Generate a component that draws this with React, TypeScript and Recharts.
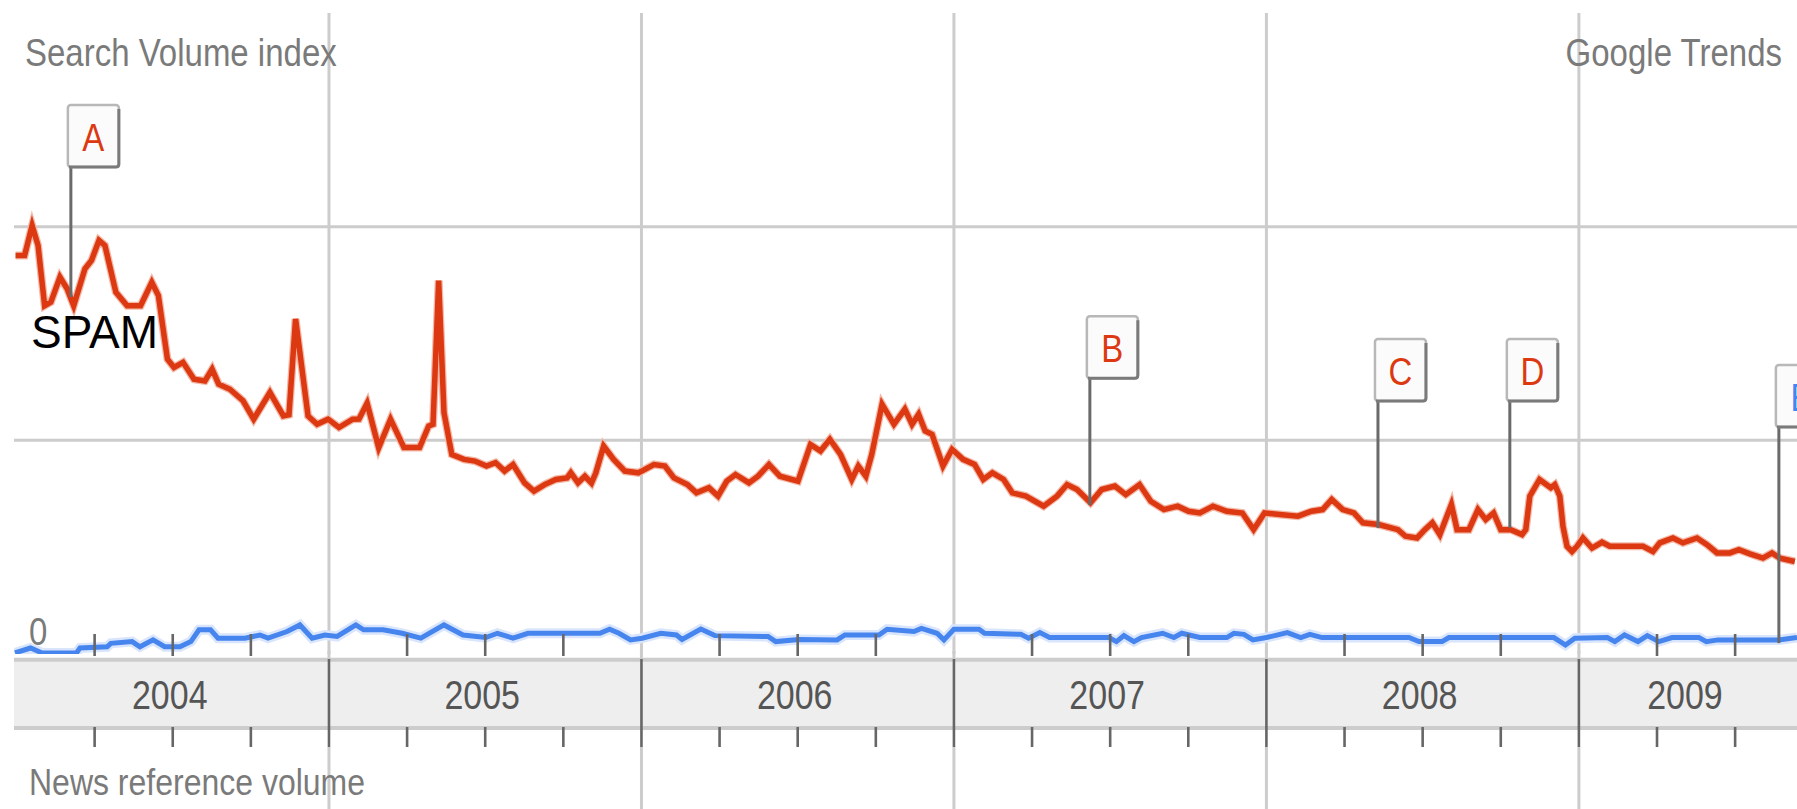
import React from 'react';
import {
  LineChart,
  Line,
  XAxis,
  YAxis,
  ReferenceLine,
  ReferenceArea,
  ReferenceDot,
} from 'recharts';

// ---------- data (fractional years / search-volume index) ----------
const spamDates = [
  2003.997, 2004.026, 2004.05, 2004.069, 2004.09, 2004.11, 2004.139, 2004.162, 2004.183, 2004.219,
  2004.24, 2004.264, 2004.283, 2004.318, 2004.354, 2004.397, 2004.433, 2004.454, 2004.483, 2004.504,
  2004.533, 2004.568, 2004.603, 2004.626, 2004.647, 2004.683, 2004.725, 2004.759, 2004.811, 2004.854,
  2004.872, 2004.893, 2004.933, 2004.962, 2004.997, 2005.032, 2005.076, 2005.096, 2005.122, 2005.159,
  2005.197, 2005.24, 2005.29, 2005.319, 2005.333, 2005.351, 2005.368, 2005.393, 2005.432, 2005.467,
  2005.504, 2005.533, 2005.562, 2005.589, 2005.626, 2005.656, 2005.69, 2005.726, 2005.762, 2005.774,
  2005.797, 2005.819, 2005.84, 2005.854, 2005.879, 2005.911, 2005.947, 2005.99, 2006.04, 2006.075,
  2006.104, 2006.147, 2006.176, 2006.216, 2006.245, 2006.273, 2006.301, 2006.344, 2006.373, 2006.408,
  2006.443, 2006.501, 2006.541, 2006.573, 2006.603, 2006.637, 2006.673, 2006.694, 2006.718, 2006.737,
  2006.77, 2006.808, 2006.843, 2006.866, 2006.887, 2006.908, 2006.93, 2006.965, 2006.994, 2007.029,
  2007.066, 2007.094, 2007.123, 2007.159, 2007.187, 2007.23, 2007.287, 2007.33, 2007.362, 2007.394,
  2007.437, 2007.473, 2007.515, 2007.55, 2007.594, 2007.63, 2007.672, 2007.716, 2007.751, 2007.787,
  2007.829, 2007.873, 2007.923, 2007.959, 2007.994, 2008.043, 2008.101, 2008.144, 2008.18, 2008.209,
  2008.244, 2008.28, 2008.309, 2008.359, 2008.421, 2008.445, 2008.482, 2008.507, 2008.531, 2008.555,
  2008.592, 2008.61, 2008.648, 2008.677, 2008.702, 2008.727, 2008.75, 2008.782, 2008.818, 2008.83,
  2008.843, 2008.874, 2008.91, 2008.923, 2008.939, 2008.949, 2008.962, 2008.978, 2008.994, 2009.013,
  2009.042, 2009.074, 2009.099, 2009.154, 2009.205, 2009.237, 2009.259, 2009.301, 2009.333, 2009.378,
  2009.41, 2009.442, 2009.483, 2009.512, 2009.547, 2009.589, 2009.618, 2009.643, 2009.691,
];
const spamValues = [
  1.865, 1.865, 2.006, 1.912, 1.63, 1.647, 1.764, 1.709, 1.63, 1.803,
  1.842, 1.936, 1.912, 1.693, 1.63, 1.63, 1.74, 1.678, 1.38, 1.341,
  1.365, 1.286, 1.278, 1.333, 1.263, 1.239, 1.185, 1.099, 1.224, 1.114,
  1.12, 1.568, 1.114, 1.075, 1.099, 1.06, 1.099, 1.1, 1.174, 0.965,
  1.099, 0.966, 0.966, 1.067, 1.075, 1.748, 1.13, 0.934, 0.911, 0.903,
  0.88, 0.896, 0.856, 0.887, 0.801, 0.762, 0.793, 0.817, 0.824, 0.848,
  0.801, 0.832, 0.8, 0.848, 0.973, 0.911, 0.856, 0.848, 0.887, 0.88,
  0.824, 0.793, 0.754, 0.778, 0.739, 0.809, 0.84, 0.801, 0.832, 0.887,
  0.832, 0.809, 0.981, 0.95, 1.005, 0.934, 0.817, 0.88, 0.832, 0.934,
  1.169, 1.075, 1.146, 1.075, 1.122, 1.044, 1.028, 0.88, 0.958, 0.911,
  0.887, 0.817, 0.848, 0.817, 0.754, 0.739, 0.692, 0.739, 0.793, 0.77,
  0.708, 0.77, 0.786, 0.746, 0.793, 0.715, 0.676, 0.692, 0.668, 0.66,
  0.692, 0.668, 0.66, 0.582, 0.66, 0.653, 0.645, 0.668, 0.676, 0.723,
  0.676, 0.66, 0.614, 0.606, 0.582, 0.551, 0.543, 0.582, 0.614, 0.559,
  0.7, 0.582, 0.582, 0.676, 0.629, 0.66, 0.582, 0.582, 0.559, 0.582,
  0.739, 0.817, 0.778, 0.793, 0.739, 0.598, 0.504, 0.48, 0.504, 0.543,
  0.496, 0.523, 0.504, 0.504, 0.504, 0.48, 0.52, 0.543, 0.52, 0.543,
  0.512, 0.473, 0.473, 0.488, 0.469, 0.449, 0.473, 0.449, 0.433,
];

const newsDates = [
  2003.995, 2004.045, 2004.082, 2004.192, 2004.203, 2004.29, 2004.302, 2004.37, 2004.395, 2004.437,
  2004.474, 2004.523, 2004.558, 2004.584, 2004.621, 2004.645, 2004.731, 2004.779, 2004.805, 2004.866,
  2004.907, 2004.946, 2004.987, 2005.026, 2005.086, 2005.111, 2005.173, 2005.234, 2005.294, 2005.368,
  2005.429, 2005.502, 2005.539, 2005.589, 2005.637, 2005.867, 2005.898, 2005.928, 2005.965, 2006.002,
  2006.062, 2006.112, 2006.13, 2006.19, 2006.235, 2006.405, 2006.43, 2006.504, 2006.626, 2006.651,
  2006.76, 2006.786, 2006.872, 2006.896, 2006.946, 2006.968, 2007.0, 2007.08, 2007.098, 2007.214,
  2007.239, 2007.275, 2007.306, 2007.496, 2007.52, 2007.544, 2007.576, 2007.6, 2007.668, 2007.704,
  2007.729, 2007.787, 2007.873, 2007.896, 2007.928, 2007.957, 2008.0, 2008.067, 2008.11, 2008.139,
  2008.178, 2008.456, 2008.488, 2008.562, 2008.584, 2008.92, 2008.957, 2008.987, 2009.091, 2009.115,
  2009.146, 2009.189, 2009.219, 2009.256, 2009.298, 2009.384, 2009.408, 2009.445, 2009.64, 2009.698,
];
const newsValues = [
  0.005, 0.028, 0.005, 0.005, 0.028, 0.034, 0.05, 0.058, 0.034, 0.066,
  0.034, 0.034, 0.058, 0.113, 0.113, 0.074, 0.074, 0.089, 0.074, 0.105,
  0.136, 0.074, 0.089, 0.082, 0.136, 0.113, 0.113, 0.097, 0.074, 0.136,
  0.089, 0.077, 0.097, 0.074, 0.097, 0.097, 0.116, 0.097, 0.066, 0.074,
  0.097, 0.089, 0.068, 0.117, 0.086, 0.082, 0.058, 0.068, 0.066, 0.089,
  0.089, 0.116, 0.105, 0.12, 0.097, 0.066, 0.116, 0.116, 0.097, 0.092,
  0.074, 0.1, 0.077, 0.077, 0.058, 0.086, 0.058, 0.077, 0.097, 0.077,
  0.097, 0.077, 0.077, 0.097, 0.092, 0.066, 0.077, 0.1, 0.077, 0.092,
  0.077, 0.077, 0.058, 0.058, 0.077, 0.077, 0.042, 0.074, 0.077, 0.058,
  0.089, 0.058, 0.086, 0.058, 0.077, 0.077, 0.058, 0.066, 0.066, 0.077,
];

const yearStarts = [2004, 2005, 2006, 2007, 2008, 2009];
const yearLabels = ['2004', '2005', '2006', '2007', '2008', '2009'];

const flagLetters = ['A', 'B', 'C', 'D', 'E'];
const flagSeries = ['spam', 'spam', 'spam', 'spam', 'news'];
const flagDates = [2004.174, 2007.435, 2008.357, 2008.779, 2009.64];
const flagPointValues = [1.671, 0.697, 0.59, 0.59, 0.051];
const flagBoxValues = [2.279, 1.291, 1.184, 1.184, 1.062];

// ---------- derived ----------
const X_MIN = 2003.992;
const X_MAX = 2009.698;

const spamData = spamDates.map((t, i) => ({ t, v: spamValues[i] }));
const newsData = newsDates.map((t, i) => ({ t, v: newsValues[i] }));

// year boundaries that fall well inside the visible range
const innerYears = yearStarts.filter((y) => y - X_MIN > 0.1);

const mainTicks: number[] = [];
yearStarts.forEach((y) => {
  if (y - X_MIN > 0.1) mainTicks.push(y);
  [0.25, 0.5, 0.75].forEach((q) => {
    if (y + q < X_MAX) mainTicks.push(y + q);
  });
});
mainTicks.sort((a, b) => a - b);

const labelTicks = yearStarts.map((y) => (Math.max(y, X_MIN) + Math.min(y + 1, X_MAX)) / 2);

const FONT = '"Liberation Sans", Arial, Helvetica, sans-serif';
const RED = '#dc3912';
const BLUE = '#4684ee';
const GRID = '#cccccc';
const TICK = '#666666';
const STRETCH = 1.18;

const renderMainTick = (props: any) => {
  const { x, y, payload } = props;
  const v = payload.value;
  if (Number.isInteger(v)) {
    return (
      <g>
        <line x1={x} x2={x} y1={y - 3} y2={y + 5} stroke={GRID} strokeWidth={3} />
        <line x1={x} x2={x} y1={y + 5} y2={y + 93} stroke={TICK} strokeWidth={2.6} />
        <line x1={x} x2={x} y1={y + 93} y2={y + 160} stroke={GRID} strokeWidth={3} />
      </g>
    );
  }
  return (
    <g>
      <line x1={x} x2={x} y1={y - 20} y2={y + 2} stroke={TICK} strokeWidth={2.6} />
      <line x1={x} x2={x} y1={y + 73} y2={y + 93} stroke={TICK} strokeWidth={2.6} />
    </g>
  );
};

const renderLabelTick = (props: any) => {
  const { x, y, index } = props;
  return (
    <text
      transform={`translate(${x - 3},${y + 54}) scale(1,${STRETCH})`}
      textAnchor="middle"
      fontSize={34}
      fontFamily={FONT}
      fill="#555555"
    >
      {yearLabels[index]}
    </text>
  );
};

const makeFlag = (letter: string, color: string) => (props: any) => {
  const { cx, cy } = props;
  const w = 51;
  const h = 62;
  const left = cx - 3;
  const top = cy - h;
  return (
    <g>
      <rect x={left} y={top} width={w} height={h} rx={3} fill="#fbfbfb" stroke="#b8b8b8" strokeWidth={2.5} />
      <path
        d={`M${left + 1} ${top + h} H${left + w - 3} Q${left + w} ${top + h} ${left + w} ${top + h - 3} V${top + 4}`}
        stroke="#7a7a7a"
        strokeWidth={3}
        fill="none"
      />
      <text
        transform={`translate(${left + w / 2},${top + 46}) scale(1,${STRETCH})`}
        textAnchor="middle"
        fontSize={33}
        fontFamily={FONT}
        fill={color}
      >
        {letter}
      </text>
    </g>
  );
};

const grayText = (x: number, y: number, s: string, size: number, anchor = 'start') => (
  <text
    transform={`translate(${x},${y}) scale(1,${STRETCH})`}
    textAnchor={anchor as any}
    fontSize={size}
    fontFamily={FONT}
    fill="#7a7a7a"
  >
    {s}
  </text>
);

export default function App() {
  return (
    <div style={{ position: 'absolute', left: 0, top: 0, width: 1797, height: 809, background: '#fff', overflow: 'hidden' }}>
      <LineChart width={1797} height={809} margin={{ top: 13, right: 0, bottom: 153, left: 14 }}>
        <XAxis
          dataKey="t"
          type="number"
          domain={[X_MIN, X_MAX]}
          allowDataOverflow
          ticks={mainTicks}
          interval={0}
          tick={renderMainTick}
          tickLine={false}
          axisLine={false}
          tickSize={0}
          tickMargin={0}
          height={1}
        />
        <XAxis
          xAxisId="lab"
          dataKey="t"
          type="number"
          domain={[X_MIN, X_MAX]}
          allowDataOverflow
          ticks={labelTicks}
          interval={0}
          tick={renderLabelTick}
          tickLine={false}
          axisLine={false}
          tickSize={0}
          tickMargin={0}
          height={1}
        />
        <YAxis type="number" domain={[0, 3]} allowDataOverflow hide width={0} />

        <ReferenceArea y1={-0.027} y2={-0.346} fill="#eeeeee" fillOpacity={1} stroke="none" ifOverflow="visible" />
        <ReferenceLine y={-0.027} stroke={GRID} strokeWidth={4} ifOverflow="visible" />
        <ReferenceLine y={-0.346} stroke={GRID} strokeWidth={4} ifOverflow="visible" />
        <ReferenceLine y={1} stroke={GRID} strokeWidth={3} />
        <ReferenceLine y={2} stroke={GRID} strokeWidth={3} />
        {innerYears.map((y) => (
          <ReferenceLine key={`g${y}`} x={y} stroke={GRID} strokeWidth={3} />
        ))}

        <Line
          xAxisId="lab"
          data={newsData}
          dataKey="v"
          type="linear"
          stroke="#d8e5fc"
          strokeWidth={10}
          dot={false}
          activeDot={false}
          isAnimationActive={false}
        />
        <Line
          data={newsData}
          dataKey="v"
          type="linear"
          stroke={BLUE}
          strokeWidth={5}
          dot={false}
          activeDot={false}
          isAnimationActive={false}
        />
        <Line
          data={spamData}
          dataKey="v"
          type="linear"
          stroke="#f3b9a8"
          strokeWidth={8}
          dot={false}
          activeDot={false}
          isAnimationActive={false}
        />
        <Line
          data={spamData}
          dataKey="v"
          type="linear"
          stroke={RED}
          strokeWidth={5.5}
          dot={false}
          activeDot={false}
          isAnimationActive={false}
        />

        {flagLetters.map((l, i) => (
          <ReferenceLine
            key={`s${l}`}
            segment={[
              { x: flagDates[i], y: flagPointValues[i] },
              { x: flagDates[i], y: flagBoxValues[i] },
            ]}
            stroke="#6a6a6a"
            strokeWidth={3}
          />
        ))}
        {flagLetters.map((l, i) => (
          <ReferenceDot
            key={`f${l}`}
            x={flagDates[i]}
            y={flagBoxValues[i]}
            r={1}
            shape={makeFlag(l, flagSeries[i] === 'spam' ? RED : BLUE)}
          />
        ))}
      </LineChart>

      <svg
        width={1797}
        height={809}
        style={{ position: 'absolute', left: 0, top: 0, pointerEvents: 'none' }}
      >
        {grayText(25, 66, 'Search Volume index', 33)}
        {grayText(1782, 66, 'Google Trends', 33, 'end')}
        {grayText(29, 795, 'News reference volume', 32)}
        {grayText(29, 645, '0', 33)}
        <text x={31} y={348} fontSize={46} fontFamily={FONT} fill="#000">
          SPAM
        </text>
      </svg>
    </div>
  );
}
